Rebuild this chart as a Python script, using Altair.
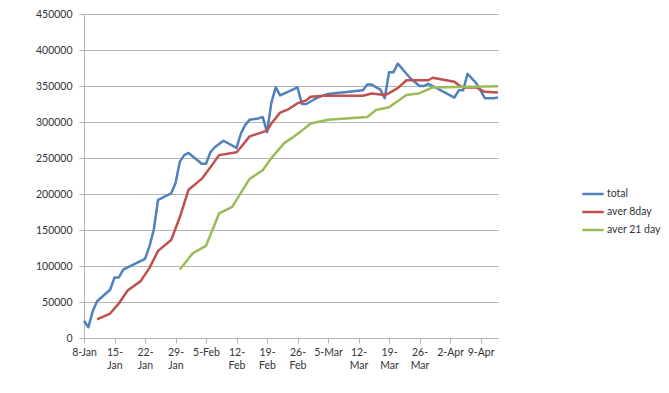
import altair as alt
import pandas as pd

# ---- data ----
total_dates = ["2015-01-08", "2015-01-09", "2015-01-10", "2015-01-11", "2015-01-14", "2015-01-15",
               "2015-01-16", "2015-01-17", "2015-01-22", "2015-01-23", "2015-01-24", "2015-01-25",
               "2015-01-28", "2015-01-29", "2015-01-30", "2015-01-31", "2015-02-01", "2015-02-04",
               "2015-02-05", "2015-02-06", "2015-02-07", "2015-02-09", "2015-02-12", "2015-02-13",
               "2015-02-14", "2015-02-15", "2015-02-17", "2015-02-18", "2015-02-19", "2015-02-20",
               "2015-02-21", "2015-02-22", "2015-02-26", "2015-02-27", "2015-02-28", "2015-03-02",
               "2015-03-03", "2015-03-05", "2015-03-13", "2015-03-14", "2015-03-15", "2015-03-17",
               "2015-03-18", "2015-03-19", "2015-03-20", "2015-03-21", "2015-03-23", "2015-03-24",
               "2015-03-26", "2015-03-27", "2015-03-28", "2015-03-29", "2015-04-03", "2015-04-04",
               "2015-04-05", "2015-04-06", "2015-04-08", "2015-04-10", "2015-04-12", "2015-04-13"]
total_values = [24000, 15000, 37000, 51000, 67000, 84000,
                84000, 95000, 110000, 127000, 150000, 192000,
                201000, 215000, 245000, 254000, 257000, 242000,
                242000, 258000, 265000, 274000, 264000, 284000,
                296000, 303000, 305000, 307000, 286000, 327000,
                348000, 337000, 348000, 325000, 325000, 332000,
                335000, 339000, 344000, 352000, 352000, 345000,
                333000, 369000, 369000, 381000, 367000, 360000,
                350000, 350000, 353000, 350000, 334000, 344000,
                344000, 367000, 354000, 333000, 333000, 334000]

aver8_dates = ["2015-01-11", "2015-01-14", "2015-01-16", "2015-01-18", "2015-01-21", "2015-01-23",
               "2015-01-25", "2015-01-28", "2015-01-30", "2015-02-01", "2015-02-04", "2015-02-06",
               "2015-02-08", "2015-02-12", "2015-02-13", "2015-02-15", "2015-02-19", "2015-02-20",
               "2015-02-22", "2015-02-24", "2015-02-26", "2015-02-28", "2015-03-01", "2015-03-04",
               "2015-03-13", "2015-03-15", "2015-03-18", "2015-03-19", "2015-03-21", "2015-03-23",
               "2015-03-28", "2015-03-29", "2015-04-03", "2015-04-04", "2015-04-05", "2015-04-08",
               "2015-04-10", "2015-04-13"]
aver8_values = [26000, 34000, 48000, 66000, 79000, 97000,
                121000, 136000, 168000, 206000, 221000, 237000,
                254000, 258000, 265000, 280000, 288000, 298000,
                313000, 318000, 326000, 330000, 335000, 336500,
                336500, 339500, 337500, 340000, 347000, 358000,
                358000, 361500, 356000, 351000, 348000, 348000,
                342000, 341000]

aver21_dates = ["2015-01-30", "2015-02-02", "2015-02-05", "2015-02-08", "2015-02-11", "2015-02-15",
                "2015-02-18", "2015-02-20", "2015-02-23", "2015-02-25", "2015-02-27", "2015-03-01",
                "2015-03-05", "2015-03-14", "2015-03-16", "2015-03-19", "2015-03-23", "2015-03-26",
                "2015-03-29", "2015-04-13"]
aver21_values = [95000, 118000, 128000, 173000, 182000, 221000,
                 233000, 250000, 271000, 279000, 288000, 298000,
                 303000, 307000, 316700, 320400, 337500, 340000,
                 348000, 349500]

series_names = ["total", "aver 8day", "aver 21 day"]
series_colors = ["#4F81BD", "#C0504D", "#9BBB59"]
y_ticks = [0, 50000, 100000, 150000, 200000, 250000, 300000, 350000, 400000, 450000]
x_tick_dates = ["2015-01-08", "2015-01-15", "2015-01-22", "2015-01-29", "2015-02-05", "2015-02-12",
                "2015-02-19", "2015-02-26", "2015-03-05", "2015-03-12", "2015-03-19", "2015-03-26",
                "2015-04-02", "2015-04-09"]

frames = []
for name, d, v in [(series_names[0], total_dates, total_values),
                   (series_names[1], aver8_dates, aver8_values),
                   (series_names[2], aver21_dates, aver21_values)]:
    frames.append(pd.DataFrame({"date": d, "value": v, "series": name}))
df = pd.concat(frames, ignore_index=True)


def dt(s):
    y, m, d = (int(p) for p in s.split("-"))
    return alt.DateTime(year=y, month=m, date=d, utc=True)


FONT = "Lato"
TXT = "#333333"
GRID = "#b5b5b5"

label_expr = ("utcdate(datum.value) < 10 ? utcFormat(datum.value, '%-d-%b') : "
              "[utcFormat(datum.value, '%-d') + '-', utcFormat(datum.value, '%b')]")

chart = alt.Chart(df).mark_line(strokeWidth=2.5, strokeJoin="round").encode(
    x=alt.X("date:T",
            scale=alt.Scale(type="utc", domain=[dt("2015-01-08"), dt("2015-04-13")], nice=False),
            axis=alt.Axis(title=None, values=[dt(s) for s in x_tick_dates], labelExpr=label_expr,
                          grid=False, domainColor=GRID, tickColor=GRID, tickSize=5,
                          labelPadding=4, labelFont=FONT, labelFontSize=10.5, labelColor=TXT,
                          labelLineHeight=13, labelOverlap=False, labelAlign="center",
                          labelBaseline="top", labelFlush=False)),
    y=alt.Y("value:Q",
            scale=alt.Scale(domain=[0, 450000], nice=False, zero=True),
            axis=alt.Axis(title=None, values=y_ticks, format="d", grid=True, gridColor=GRID,
                          gridWidth=1.2, domainColor=GRID, tickColor=GRID, tickSize=5,
                          labelPadding=7, labelFont=FONT, labelFontSize=10.5, labelColor=TXT)),
    color=alt.Color("series:N",
                    scale=alt.Scale(domain=series_names, range=series_colors),
                    legend=alt.Legend(title=None, orient="none", legendX=497, legendY=168,
                                      symbolType="stroke", symbolSize=460, symbolStrokeWidth=2.5,
                                      labelFont=FONT, labelFontSize=10.5, labelColor=TXT,
                                      labelOffset=2, rowPadding=0, padding=0)),
    order=alt.Order("date:T"),
).properties(
    width=414, height=324,
    autosize=alt.AutoSizeParams(type="none"),
    padding={"left": 76, "top": 6, "right": 163, "bottom": 47},
).configure_view(stroke=None)

chart.save("out.html", embed_options={"renderer": "svg", "actions": False})
